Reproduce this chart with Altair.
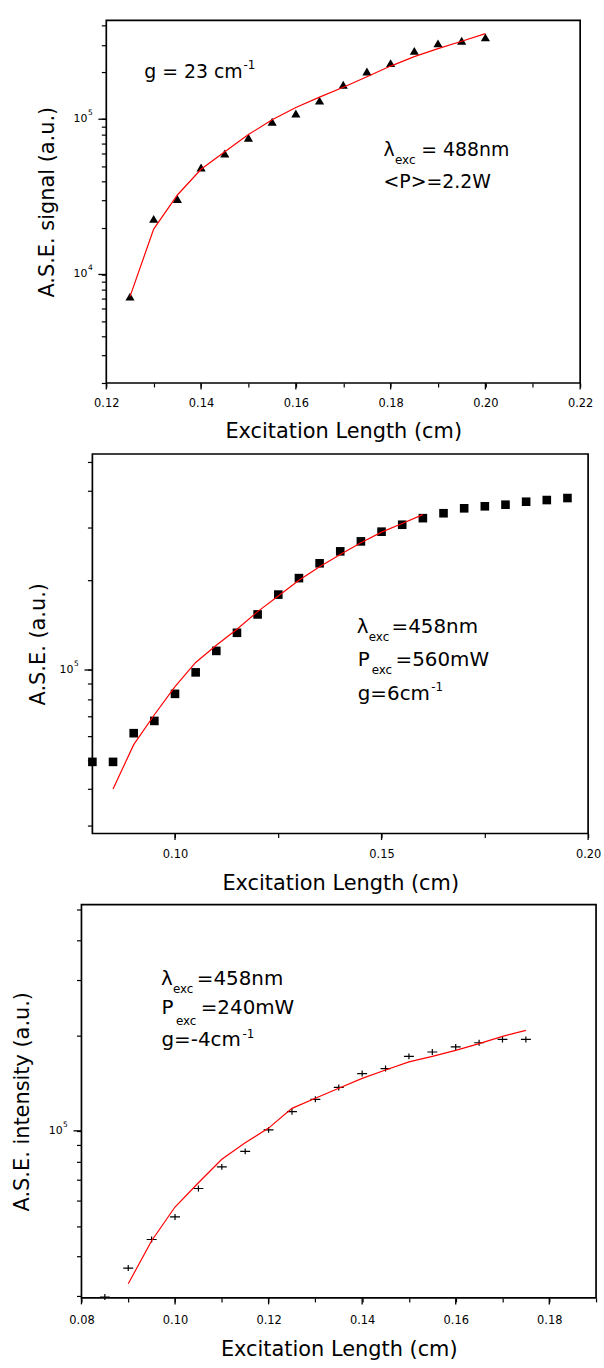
import altair as alt
import pandas as pd

FONT = "DejaVu Sans"

# ---------------- data ----------------
# Panel 1 (triangles, g = 23 cm-1)
p1_x = [0.125, 0.130, 0.135, 0.140, 0.145, 0.150, 0.155, 0.160,
        0.165, 0.170, 0.175, 0.180, 0.185, 0.190, 0.195, 0.200]
p1_y = [7200, 22800, 30600, 48900, 60100, 76000, 96200, 108700,
        131700, 166700, 202900, 229700, 275500, 308000, 320000, 336500]
p1_fit = [7200, 19600, 32500, 47600, 61700, 79600, 99200, 119000,
          138700, 160700, 187900, 219900, 253000, 284600, 317900, 355600]

# Panel 2 (squares, g = 6 cm-1)
p2_x = [0.080, 0.085, 0.090, 0.095, 0.100, 0.105, 0.110, 0.115,
        0.120, 0.125, 0.130, 0.135, 0.140, 0.145, 0.150, 0.155,
        0.160, 0.165, 0.170, 0.175, 0.180, 0.185, 0.190, 0.195]
p2_y = [49200, 49200, 61400, 67500, 83200, 98200, 115900, 133300,
        153600, 179000, 203300, 228000, 250000, 270000, 291000, 307000,
        323000, 335500, 348500, 354000, 358400, 366700, 371500, 377300]
p2_fit_x = [0.085, 0.090, 0.095, 0.100, 0.105, 0.110, 0.115, 0.120,
            0.125, 0.130, 0.135, 0.140, 0.145, 0.150, 0.155, 0.160]
p2_fit = [39900, 56200, 70800, 88000, 106000, 121000, 137000, 157000,
          177000, 200000, 222000, 244000, 267000, 290000, 310000, 332000]

# Panel 3 (crosses, g = -4 cm-1)
p3_x = [0.085, 0.090, 0.095, 0.100, 0.105, 0.110, 0.115, 0.120, 0.125,
        0.130, 0.135, 0.140, 0.145, 0.150, 0.155, 0.160, 0.165, 0.170, 0.175]
p3_y = [29800, 36800, 45300, 53400, 65700, 76900, 86100, 100700, 115000,
        125800, 137200, 151800, 157400, 172000, 177600, 184300, 190000, 194600, 194600]
p3_fit_x = [0.090, 0.095, 0.100, 0.105, 0.110, 0.115, 0.120, 0.125, 0.130,
            0.135, 0.140, 0.145, 0.150, 0.155, 0.160, 0.165, 0.170, 0.175]
p3_fit = [32800, 44900, 57400, 68500, 81300, 91700, 102000, 117800, 126800,
          136300, 146500, 155700, 165300, 172100, 179800, 188800, 199000, 208000]

# ticks
p1_xticks = [0.12, 0.13, 0.14, 0.15, 0.16, 0.17, 0.18, 0.19, 0.20, 0.21, 0.22]
p1_xmajor = [0.12, 0.14, 0.16, 0.18, 0.20, 0.22]
p2_xticks = [0.10, 0.125, 0.15, 0.175, 0.20]
p2_xmajor = [0.10, 0.15, 0.20]
p3_xticks = [0.08, 0.09, 0.10, 0.11, 0.12, 0.13, 0.14, 0.15, 0.16, 0.17, 0.18, 0.19]
p3_xmajor = [0.08, 0.10, 0.12, 0.14, 0.16, 0.18]
p1_yticks = [2000, 3000, 4000, 5000, 6000, 7000, 8000, 9000,
             10000, 20000, 30000, 40000, 50000, 60000, 70000, 80000, 90000,
             100000, 200000, 300000, 400000]
p23_yticks = [30000, 40000, 50000, 60000, 70000, 80000, 90000,
              100000, 200000, 300000, 400000, 500000]
p1_ymajor = [10000, 100000]
p1_ylab_exp = ["4", "5"]
p23_ymajor = [100000]
p23_ylab_exp = ["5"]


def one():
    return pd.DataFrame({"k": [0]})


def make_panel(px, py, fx, fy, marker, left, width, height, xdom, xticks, xmajor,
               ydom, yticks, ymajor, ylab_exp, ytitle, ytitle_x, xtitle_y,
               label_pad, annots, anchor=False):
    xs = alt.Scale(domain=xdom, range=[left, left + width], nice=False, zero=False)
    ys = alt.Scale(type="log", domain=ydom, nice=False)
    major_list = "[" + ",".join(str(v) for v in xmajor) + "]"
    xaxis = alt.Axis(
        values=xticks,
        labelExpr=f"indexof({major_list}, datum.value) >= 0 ? format(datum.value, '.2f') : ''",
        tickSize=4, labelFlush=False, labelOverlap=False, labelPadding=label_pad,
        labelFontSize=11.5, title="Excitation Length (cm)", titleFontSize=21,
        titleX=left + width / 2, titleY=xtitle_y, titleBaseline="middle",
        titleAlign="center",
    )
    yaxis = alt.Axis(
        values=yticks, labels=False, offset=-left, tickSize=5,
        title=ytitle, titleFontSize=21, titleX=ytitle_x, titleY=height / 2,
        titleAngle=270, titleBaseline="middle", titleAlign="center",
    )

    def X(field="x"):
        return alt.X(f"{field}:Q", scale=xs, axis=xaxis, title="Excitation Length (cm)")

    def Y(field="y"):
        return alt.Y(f"{field}:Q", scale=ys, axis=yaxis, title=ytitle)

    pts = alt.Chart(pd.DataFrame({"x": px, "y": py})).mark_point(**marker).encode(
        x=X(), y=Y())
    fit = alt.Chart(pd.DataFrame({"x": fx, "y": fy})).mark_line(
        color="#ff0000", strokeWidth=1.2).encode(x=X(), y=Y())
    frame = alt.Chart(one()).mark_rect(fillOpacity=0, stroke="black", strokeWidth=1.7).encode(
        x=alt.value(left), x2=alt.value(left + width), y=alt.value(0), y2=alt.value(height)
    )
    # longer major ticks
    xmaj = alt.Chart(pd.DataFrame({"x": xmajor})).mark_rule(color="black", strokeWidth=1.3).encode(
        x=X(), y=alt.value(height), y2=alt.value(height + 6.5))
    ymaj = alt.Chart(pd.DataFrame({"y": ymajor})).mark_rule(color="black", strokeWidth=1.3).encode(
        y=Y(), x=alt.value(left), x2=alt.value(left - 8))
    labdf = pd.DataFrame({"y": ymajor, "b": ["10"] * len(ymajor), "e": ylab_exp})
    ylab = alt.Chart(labdf).mark_text(font=FONT, fontSize=11, align="right",
                                      baseline="middle", color="black").encode(
        x=alt.value(left - 19), y=Y(), text="b:N")
    ysup = alt.Chart(labdf).mark_text(font=FONT, fontSize=7.5, align="left",
                                      baseline="middle", dy=-6, color="black").encode(
        x=alt.value(left - 18.5), y=Y(), text="e:N")
    layers = [pts, fit, frame, xmaj, ymaj, ylab, ysup]
    for (ax, ay, pieces) in annots:
        for (txt, dx, dy, fs) in pieces:
            layers.append(
                alt.Chart(pd.DataFrame({"x": [ax], "y": [ay], "t": [txt]})).mark_text(
                    font=FONT, fontSize=fs, align="left", baseline="alphabetic",
                    dx=dx, dy=dy, color="black").encode(x=X(), y=Y(), text="t:N")
            )
    if anchor:
        layers.append(alt.Chart(one()).mark_point(size=1, opacity=0, strokeWidth=0).encode(
            x=alt.value(-80.5), y=alt.value(-14.5)))
    return alt.layer(*layers).properties(width=left + width, height=height)


panel1 = make_panel(
    p1_x, p1_y, p1_x, p1_fit,
    dict(shape="triangle-up", filled=True, color="black", size=85, opacity=1),
    25, 477, 365, [0.12, 0.22], p1_xticks, p1_xmajor,
    [2000, 433000], p1_yticks, p1_ymajor, p1_ylab_exp,
    "A.S.E. signal (a.u.)", -59, 49, 11,
    [
        (0.128, 184000, [("g = 23 cm", 0, 0, 19), ("-1", 100, -9.5, 12)]),
        (0.1785, 58000, [("λ", 0, 0, 19), ("exc", 11.5, 8.5, 12),
                         ("= 488nm", 38, 0, 19), ("<P>=2.2W", 0, 32.5, 19)]),
    ],
    anchor=True,
)

panel2 = make_panel(
    p2_x, p2_y, p2_fit_x, p2_fit,
    dict(shape="square", filled=True, color="black", size=75, opacity=1),
    11, 499, 382, [0.08, 0.20], p2_xticks, p2_xmajor,
    [28300, 530000], p23_yticks, p23_ymajor, p23_ylab_exp,
    "A.S.E. (a.u.)", -54, 50.5, 11,
    [
        (0.144, 133000, [("λ", 0, 0, 20), ("exc", 12, 8, 12), ("=458nm", 35, 0, 20),
                         ("P", 1, 33.5, 20), ("exc", 15, 41, 12), ("=560mW", 39, 33.5, 20),
                         ("g=6cm", 1, 67.5, 20), ("-1", 75, 58, 12)]),
    ],
)

panel3 = make_panel(
    p3_x, p3_y, p3_fit_x, p3_fit,
    dict(shape="M-1,0L1,0M0,-0.6L0,0.6", filled=False, color="black",
         strokeWidth=1.2, size=100, opacity=1),
    0, 518, 396, [0.08, 0.19], p3_xticks, p3_xmajor,
    [29600, 520000], p23_yticks, p23_ymajor, p23_ylab_exp,
    "A.S.E. intensity (a.u.)", -59, 52, 13,
    [
        (0.097, 290000, [("λ", 0, 0, 20), ("exc", 12, 8, 12), ("=458nm", 36, 0, 20),
                         ("P", 0.5, 30, 20), ("exc", 15, 40.5, 12), ("=240mW", 40, 30, 20),
                         ("g=-4cm", 0.5, 62, 20), ("-1", 82, 54, 12)]),
    ],
)

chart = alt.vconcat(panel1, panel2, panel3, spacing=71.5, bounds="flush").properties(
    padding={"left": 0, "top": 0, "right": 2, "bottom": 2}
).configure_view(stroke="transparent").configure_axis(
    labelFont=FONT, titleFont=FONT, titleFontWeight="normal", labelColor="black",
    titleColor="black", tickColor="black", tickWidth=1.2, domain=False, grid=False,
)

chart.save("out.html", embed_options={"renderer": "svg", "actions": False})
